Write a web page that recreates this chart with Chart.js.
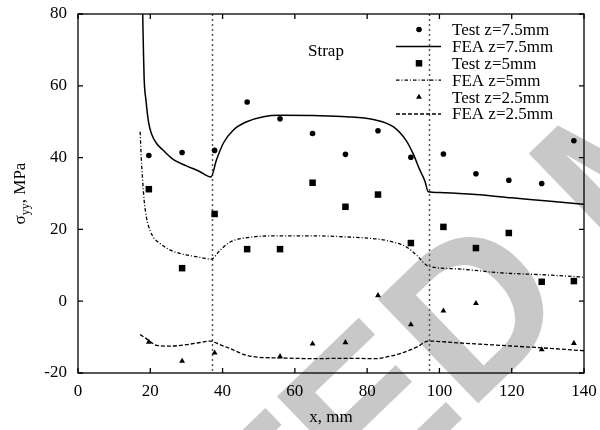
<!DOCTYPE html>
<html>
<head>
<meta charset="utf-8">
<script src="https://cdn.jsdelivr.net/npm/chart.js@4/dist/chart.umd.min.js"></script>
<style>
  body { margin: 0; background: #fff; }
  #wrap { width: 600px; height: 430px; }
</style>
</head>
<body>
<div id="wrap"><canvas id="chartStress" width="600" height="430"></canvas></div>
<script>
// axis ranges / ticks
const xTicks = [0, 20, 40, 60, 80, 100, 120, 140];
const yTicks = [-20, 0, 20, 40, 60, 80];

// measured points (same x positions for every depth)
const testX = [19.6, 28.8, 37.8, 46.8, 55.9, 64.9, 74.0, 83.0, 92.1, 101.1, 110.1, 119.2, 128.3, 137.2];
const test75 = [40.6, 41.4, 42.0, 55.5, 50.8, 46.7, 40.9, 47.5, 40.1, 41.0, 35.5, 33.7, 32.8, 44.7];
const test5 = [31.2, 9.2, 24.3, 14.5, 14.5, 33.0, 26.3, 29.7, 16.2, 20.7, 14.8, 19.0, 5.4, 5.6];
const test25 = [-11.4, -16.7, -14.4, null, -15.4, -11.9, -11.5, 1.6, -6.5, -2.7, -0.6, null, -13.5, -11.7];

// FEA curves
const fea75X = [17.9, 18.1, 18.3, 18.8, 19.5, 20.3, 21.7, 23.5, 26.3, 30.0, 33.5, 36.8, 38.3, 40.2, 43.0, 46.7, 51.3, 55.9, 65.1, 74.3, 81.7, 87.2, 90.9, 92.8, 94.6, 96.0, 96.9, 100, 110, 120, 130, 140];
const fea75Y = [80, 70, 62, 56.0, 50.0, 46.7, 44.0, 42.1, 39.5, 37.7, 36.2, 34.6, 39.3, 44.0, 47.7, 50.0, 51.4, 51.8, 51.7, 51.4, 50.6, 48.6, 44.6, 40.9, 36.5, 33.4, 30.5, 30.3, 29.7, 28.8, 27.9, 27.0];

const fea5X = [17.2, 17.5, 18.0, 18.3, 19.0, 19.9, 21.0, 22.7, 25.0, 28.2, 31.0, 33.8, 36.8, 39.3, 42.1, 46.7, 55.9, 65.1, 74.3, 83.6, 88.2, 90.9, 93.7, 96.9, 105, 117, 130, 140];
const fea5Y = [47.2, 40.0, 32.0, 28.1, 23.0, 19.8, 17.6, 16.1, 14.5, 13.3, 12.7, 12.2, 11.7, 14.2, 16.5, 17.7, 18.2, 18.2, 17.9, 17.2, 16.2, 15.1, 12.8, 9.8, 9.0, 7.9, 7.3, 6.7];

const fea25X = [17.2, 19.0, 20.0, 21.8, 25.5, 30.0, 33.8, 36.8, 39.0, 42.1, 46.7, 50.0, 55.9, 65.0, 74.3, 82.6, 86.0, 89.1, 93.7, 96.9, 105, 117, 130, 140];
const fea25Y = [-9.3, -10.5, -11.3, -12.3, -12.5, -12.1, -11.5, -11.1, -12.0, -13.2, -15.1, -15.6, -15.8, -16.0, -15.9, -16.0, -15.4, -14.6, -12.8, -11.1, -11.6, -12.3, -13.1, -13.8];

// strap edges
const strapEdges = [37, 97];

const serif = "'Liberation Serif', 'Times New Roman', serif";

function pairs(xs, ys) {
  return xs.map(function (x, i) { return { x: x, y: ys[i] }; });
}

// background stamp, frame, inside ticks, strap lines, y title, labels, legend
const decorPlugin = {
  id: "decor",
  beforeDraw: function (chart) {
    var ctx = chart.ctx;
    ctx.save();
    ctx.fillStyle = "#fff";
    ctx.fillRect(0, 0, chart.width, chart.height);
    // grey stamp across the page
    var f = 210;
    ctx.font = "bold " + f + "px 'Liberation Sans', Arial, sans-serif";
    ctx.fillStyle = "#c8c8c8";
    ctx.textBaseline = "alphabetic";
    var pre = ctx.measureText("COPYRIGHTE").width + ctx.measureText("D").width / 2;
    ctx.translate(470, 306);
    ctx.rotate(-44 * Math.PI / 180);
    ctx.fillText("COPYRIGHTED MATERIAL", -pre, 0.36 * f);
    ctx.restore();
  },
  beforeDatasetsDraw: function (chart) {
    var ctx = chart.ctx;
    var a = chart.chartArea;
    var xs = chart.scales.x;
    ctx.save();
    ctx.strokeStyle = "#555";
    ctx.lineWidth = 1.5;
    ctx.setLineDash([2, 3]);
    strapEdges.forEach(function (v) {
      var px = Math.round(xs.getPixelForValue(v)) + 0.5;
      ctx.beginPath();
      ctx.moveTo(px, a.top);
      ctx.lineTo(px, a.bottom);
      ctx.stroke();
    });
    ctx.restore();
  },
  afterDraw: function (chart) {
    var ctx = chart.ctx;
    var a = chart.chartArea;
    var xs = chart.scales.x, ys = chart.scales.y;
    ctx.save();
    ctx.strokeStyle = "#000";
    ctx.lineWidth = 1.3;
    ctx.strokeRect(a.left, a.top, a.right - a.left, a.bottom - a.top);
    ctx.beginPath();
    xTicks.forEach(function (v) {
      var px = xs.getPixelForValue(v);
      ctx.moveTo(px, a.bottom); ctx.lineTo(px, a.bottom - 5);
      ctx.moveTo(px, a.top); ctx.lineTo(px, a.top + 5);
    });
    yTicks.forEach(function (v) {
      var py = ys.getPixelForValue(v);
      ctx.moveTo(a.left, py); ctx.lineTo(a.left + 5, py);
      ctx.moveTo(a.right, py); ctx.lineTo(a.right - 5, py);
    });
    ctx.stroke();

    // "Strap" label
    ctx.fillStyle = "#000";
    ctx.font = "17px " + serif;
    ctx.textAlign = "center";
    ctx.textBaseline = "middle";
    ctx.fillText("Strap", xs.getPixelForValue(68.6), ys.getPixelForValue(69.5));

    // y title with subscript
    ctx.translate(20, (a.top + a.bottom) / 2);
    ctx.rotate(-Math.PI / 2);
    ctx.textAlign = "left";
    ctx.textBaseline = "alphabetic";
    var big = "17px " + serif, small = "12px " + serif;
    ctx.font = big; var w1 = ctx.measureText("\u03c3").width;
    ctx.font = small; var w2 = ctx.measureText("yy").width;
    ctx.font = big; var w3 = ctx.measureText(", MPa").width;
    var x0 = -(w1 + w2 + w3) / 2;
    ctx.font = big; ctx.fillText("\u03c3", x0, 5);
    ctx.font = small; ctx.fillText("yy", x0 + w1, 9);
    ctx.font = big; ctx.fillText(", MPa", x0 + w1 + w2, 5);
    ctx.restore();

    // legend
    ctx.save();
    ctx.font = "17px " + serif;
    ctx.textBaseline = "middle";
    ctx.textAlign = "left";
    chart.data.datasets.forEach(function (ds, i) {
      var y = 29.5 + i * 16.9;
      ctx.fillStyle = "#000";
      ctx.strokeStyle = "#000";
      if (!ds.showLine) {
        var cx = 419, r = ds.pointRadius;
        ctx.beginPath();
        if (ds.pointStyle === "circle") {
          ctx.arc(cx, y, r, 0, Math.PI * 2);
        } else if (ds.pointStyle === "rect") {
          var s = r * Math.SQRT1_2;
          ctx.rect(cx - s, y - s, 2 * s, 2 * s);
        } else {
          ctx.moveTo(cx, y - r);
          ctx.lineTo(cx + r * 0.866, y + r * 0.5);
          ctx.lineTo(cx - r * 0.866, y + r * 0.5);
          ctx.closePath();
        }
        ctx.fill();
      } else {
        ctx.lineWidth = ds.borderWidth;
        ctx.setLineDash(ds.borderDash || []);
        ctx.beginPath();
        ctx.moveTo(396, y);
        ctx.lineTo(441, y);
        ctx.stroke();
        ctx.setLineDash([]);
      }
      ctx.fillText(ds.label, 452, y + 1);
    });
    ctx.restore();
  }
};

function testSet(label, ys, style, r) {
  return {
    label: label,
    data: pairs(testX, ys),
    showLine: false,
    pointStyle: style,
    pointRadius: r,
    pointBackgroundColor: "#000",
    pointBorderWidth: 0,
    borderColor: "#000"
  };
}

function feaSet(label, xs, ys, dash, w) {
  return {
    label: label,
    data: pairs(xs, ys),
    showLine: true,
    borderColor: "#000",
    borderWidth: w,
    borderDash: dash,
    pointRadius: 0,
    cubicInterpolationMode: "monotone",
    fill: false
  };
}

var chartStress = new Chart(document.getElementById("chartStress"), {
  type: "scatter",
  data: {
    datasets: [
      testSet("Test z=7.5mm", test75, "circle", 2.8),
      feaSet("FEA z=7.5mm", fea75X, fea75Y, [], 1.5),
      testSet("Test z=5mm", test5, "rect", 4.6),
      feaSet("FEA z=5mm", fea5X, fea5Y, [3.5, 2, 1, 2], 1.3),
      testSet("Test z=2.5mm", test25, "triangle", 3.4),
      feaSet("FEA z=2.5mm", fea25X, fea25Y, [4, 2], 1.3)
    ]
  },
  options: {
    responsive: false,
    animation: false,
    layout: { padding: { top: 14, right: 16, left: 0, bottom: 0 } },
    plugins: {
      legend: { display: false },
      tooltip: { enabled: false }
    },
    scales: {
      x: {
        type: "linear",
        min: xTicks[0],
        max: xTicks[xTicks.length - 1],
        afterBuildTicks: function (s) { s.ticks = xTicks.map(function (v) { return { value: v }; }); },
        afterFit: function (s) { s.height = 57; s.paddingLeft = 0; s.paddingRight = 0; },
        grid: { display: false, drawTicks: false },
        border: { display: false },
        ticks: { color: "#000", padding: 8, font: { family: serif, size: 17 } },
        title: { display: true, text: "x, mm", color: "#000", padding: { top: 2, bottom: 2 }, font: { family: serif, size: 17 } }
      },
      y: {
        type: "linear",
        min: yTicks[0],
        max: yTicks[yTicks.length - 1],
        afterBuildTicks: function (s) { s.ticks = yTicks.map(function (v) { return { value: v }; }); },
        afterFit: function (s) { s.width = 78; s.paddingTop = 0; s.paddingBottom = 0; },
        grid: { display: false, drawTicks: false },
        border: { display: false },
        ticks: { color: "#000", padding: 11, font: { family: serif, size: 17 } }
      }
    }
  },
  plugins: [decorPlugin]
});
</script>
</body>
</html>
